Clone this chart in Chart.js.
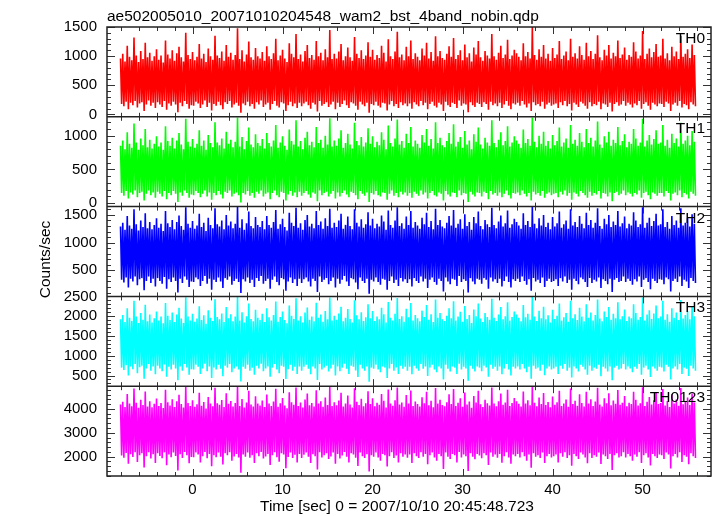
<!DOCTYPE html>
<html>
<head>
<meta charset="utf-8">
<script src="https://cdn.jsdelivr.net/npm/chart.js@4.4.1/dist/chart.umd.min.js"></script>
<style>
  body { margin: 0; background: #fff; }
  #lc { display: block; }
</style>
</head>
<body>
<canvas id="lc" width="717" height="516"></canvas>
<script>
// unbinned light curve, shown as the highest and lowest rate inside each
// 0.25 s slice (the curve is far denser than one pixel)
const t0 = -8;
const dt = 0.25;

const th0Hi = [
  960, 1040, 910, 1180, 990, 930, 1320, 1010, 900, 1090, 950, 1230, 980, 1060, 920, 1000,
  1120, 940, 1010, 890, 1270, 1030, 960, 1100, 920, 1050, 1160, 980, 910, 1400, 1020, 950,
  1070, 930, 990, 1210, 960, 1040, 900, 1130, 1000, 940, 1350, 1010, 970, 1080, 920, 1190,
  990, 1060, 940, 1020, 1480, 950, 1100, 910, 1030, 1250, 980, 940, 1140, 1000, 960, 1070,
  920, 1170, 1000, 950, 1050, 1300, 930, 1010, 1110, 960, 900, 1220, 1040, 980, 1380, 950,
  1030, 910, 1090, 1190, 970, 1020, 940, 1260, 1000, 1060, 930, 1120, 980, 1450, 950, 1040,
  960, 1080, 1210, 930, 1000, 1150, 980, 920, 1330, 1040, 970, 1100, 950, 1010, 1240, 990,
  1110, 940, 1020, 970, 1180, 1060, 910, 1290, 1000, 950, 1080, 1420, 980, 1030, 930, 1160,
  1000, 1270, 950, 1050, 990, 930, 1130, 1010, 1230, 960, 1070, 920, 1340, 1000, 1090, 970,
  940, 1040, 1170, 990, 1310, 950, 1020, 1100, 930, 1200, 980, 1050, 910, 1150, 1030, 1260,
  980, 920, 1090, 1010, 960, 1380, 1000, 940, 1060, 1180, 970, 1030, 1280, 950, 1010, 1110,
  1050, 990, 930, 1220, 1000, 1070, 960, 1500, 1020, 940, 1120, 990, 1190, 960, 1040, 920,
  1140, 970, 1030, 1260, 950, 1010, 1080, 930, 1300, 990, 1050, 960, 1170, 1020, 940, 1230,
  1000, 1090, 950, 1040, 1360, 980, 930, 1110, 1010, 1190, 960, 1060, 1000, 1270, 970, 1030,
  1150, 940, 1020, 990, 1240, 1080, 960, 1010, 1430, 950, 1040, 1130, 980, 1070, 1210, 990,
  1010, 1300, 960, 1050, 930, 1160, 1000, 1080, 950, 1350, 990, 1040, 1120, 970, 1200, 1020
];
const th0Lo = [
  180, 140, 220, 90, 200, 160, 230, 120, 190, 210, 60, 170, 240, 150, 200, 110,
  210, 170, 130, 230, 80, 190, 150, 220, 170, 40, 200, 140, 230, 180, 100, 160,
  150, 220, 190, 110, 170, 240, 130, 200, 70, 180, 150, 220, 160, 90, 210, 180,
  230, 120, 170, 200, 150, 30, 190, 160, 220, 140, 180, 100, 210, 170, 240, 130,
  170, 200, 80, 180, 230, 150, 120, 210, 190, 60, 160, 220, 140, 190, 110, 200,
  140, 190, 220, 160, 100, 200, 170, 50, 230, 150, 180, 210, 130, 170, 220, 90,
  200, 130, 180, 240, 160, 110, 210, 190, 150, 80, 220, 170, 140, 200, 30, 180,
  160, 220, 150, 120, 200, 190, 70, 170, 230, 140, 180, 110, 210, 160, 190, 140,
  190, 100, 210, 170, 140, 230, 160, 200, 90, 180, 220, 150, 120, 200, 170, 60,
  220, 160, 130, 200, 180, 110, 240, 150, 190, 170, 40, 210, 160, 130, 200, 180,
  130, 210, 180, 80, 220, 160, 190, 140, 200, 110, 170, 230, 150, 90, 190, 170,
  200, 150, 230, 170, 120, 190, 60, 210, 160, 180, 140, 220, 100, 170, 200, 150,
  170, 190, 110, 210, 160, 230, 140, 180, 70, 200, 170, 130, 220, 190, 150, 100,
  210, 140, 180, 160, 220, 90, 190, 170, 130, 200, 50, 180, 210, 150, 170, 230,
  150, 200, 170, 120, 190, 160, 230, 100, 180, 210, 150, 80, 200, 170, 140, 190,
  180, 130, 220, 190, 60, 170, 200, 150, 230, 120, 180, 160, 90, 210, 170, 140
];
const th1Hi = [
  850, 930, 800, 1050, 880, 820, 1180, 900, 790, 960, 860, 1100, 830, 940, 810, 880,
  990, 840, 900, 790, 1140, 920, 850, 970, 810, 930, 1040, 870, 800, 1250, 910, 840,
  950, 820, 880, 1080, 850, 930, 790, 1010, 890, 830, 1200, 900, 860, 960, 810, 1060,
  880, 940, 830, 910, 1270, 840, 980, 800, 920, 1120, 870, 830, 1020, 890, 850, 950,
  810, 1040, 890, 840, 930, 1160, 820, 900, 990, 850, 790, 1090, 920, 870, 1230, 840,
  920, 800, 970, 1060, 860, 910, 830, 1130, 890, 940, 820, 1000, 870, 1260, 840, 930,
  850, 960, 1080, 820, 890, 1030, 870, 810, 1190, 920, 860, 980, 840, 900, 1110, 880,
  990, 830, 910, 860, 1050, 940, 800, 1150, 890, 840, 960, 1240, 870, 920, 820, 1030,
  890, 1130, 840, 930, 880, 820, 1010, 900, 1100, 850, 950, 810, 1200, 890, 970, 860,
  830, 920, 1040, 880, 1170, 840, 910, 980, 820, 1070, 870, 930, 800, 1020, 910, 1120,
  870, 810, 970, 900, 850, 1230, 890, 830, 940, 1050, 860, 920, 1140, 840, 900, 990,
  930, 880, 820, 1090, 890, 950, 850, 1270, 910, 830, 1000, 880, 1060, 850, 920, 810,
  1010, 860, 920, 1120, 840, 900, 960, 820, 1160, 880, 940, 850, 1040, 910, 830, 1100,
  890, 970, 840, 930, 1210, 870, 820, 990, 900, 1060, 850, 940, 890, 1130, 860, 920,
  1020, 830, 910, 880, 1100, 960, 850, 900, 1250, 840, 930, 1010, 870, 950, 1080, 880,
  900, 1160, 850, 940, 820, 1030, 890, 960, 840, 1190, 880, 930, 1000, 860, 1070, 910
];
const th1Lo = [
  150, 110, 180, 70, 160, 130, 190, 90, 150, 170, 40, 140, 190, 120, 160, 80,
  170, 140, 100, 180, 60, 150, 120, 180, 140, 20, 160, 110, 190, 150, 80, 130,
  120, 180, 150, 90, 140, 190, 100, 160, 50, 150, 120, 180, 130, 70, 170, 150,
  190, 100, 140, 160, 120, 10, 150, 130, 180, 110, 150, 80, 170, 140, 190, 100,
  140, 160, 60, 150, 190, 120, 90, 170, 150, 40, 130, 180, 110, 160, 90, 170,
  110, 150, 180, 130, 80, 160, 140, 30, 190, 120, 150, 170, 100, 140, 180, 70,
  160, 100, 150, 190, 130, 90, 170, 150, 120, 60, 180, 140, 110, 160, 20, 150,
  130, 180, 120, 100, 160, 150, 50, 140, 190, 110, 150, 90, 170, 130, 160, 110,
  150, 80, 170, 140, 110, 190, 130, 160, 70, 150, 180, 120, 100, 160, 140, 40,
  180, 130, 100, 160, 150, 90, 190, 120, 150, 140, 20, 170, 130, 100, 160, 150,
  100, 170, 150, 60, 180, 130, 150, 110, 160, 90, 140, 190, 120, 70, 150, 140,
  160, 120, 190, 140, 100, 150, 40, 170, 130, 150, 110, 180, 80, 140, 160, 120,
  140, 150, 90, 170, 130, 190, 110, 150, 50, 160, 140, 100, 180, 150, 120, 80,
  170, 110, 150, 130, 180, 70, 150, 140, 100, 160, 30, 150, 170, 120, 140, 190,
  120, 160, 140, 100, 150, 130, 190, 80, 150, 170, 120, 60, 160, 140, 110, 150,
  150, 100, 180, 150, 40, 140, 160, 120, 190, 90, 150, 130, 70, 170, 140, 110
];
const th2Hi = [
  1290, 1360, 1230, 1480, 1310, 1250, 1600, 1330, 1220, 1400, 1280, 1530, 1260, 1370, 1240, 1320,
  1440, 1270, 1340, 1210, 1570, 1350, 1280, 1410, 1240, 1370, 1490, 1300, 1230, 1640, 1340, 1270,
  1390, 1250, 1310, 1520, 1280, 1360, 1210, 1450, 1320, 1260, 1620, 1330, 1290, 1400, 1240, 1500,
  1310, 1380, 1260, 1340, 1650, 1270, 1420, 1230, 1350, 1560, 1300, 1260, 1460, 1320, 1280, 1390,
  1240, 1480, 1320, 1270, 1370, 1590, 1250, 1330, 1430, 1280, 1220, 1540, 1360, 1300, 1630, 1270,
  1350, 1230, 1410, 1500, 1290, 1340, 1260, 1570, 1320, 1380, 1250, 1440, 1300, 1610, 1270, 1360,
  1280, 1400, 1520, 1250, 1320, 1470, 1300, 1240, 1600, 1360, 1290, 1420, 1270, 1330, 1550, 1310,
  1430, 1260, 1340, 1290, 1490, 1380, 1230, 1580, 1320, 1270, 1400, 1640, 1300, 1350, 1250, 1470,
  1320, 1570, 1270, 1370, 1310, 1250, 1450, 1330, 1540, 1280, 1390, 1240, 1610, 1320, 1410, 1290,
  1260, 1360, 1480, 1310, 1590, 1270, 1340, 1420, 1250, 1510, 1300, 1370, 1230, 1460, 1350, 1560,
  1300, 1240, 1410, 1330, 1280, 1630, 1320, 1260, 1380, 1490, 1290, 1350, 1580, 1270, 1330, 1430,
  1370, 1310, 1250, 1530, 1320, 1390, 1280, 1650, 1340, 1260, 1440, 1310, 1500, 1280, 1360, 1240,
  1460, 1290, 1350, 1560, 1270, 1330, 1400, 1250, 1600, 1310, 1370, 1280, 1480, 1340, 1260, 1540,
  1320, 1410, 1270, 1360, 1620, 1300, 1250, 1430, 1330, 1500, 1280, 1380, 1320, 1570, 1290, 1350,
  1470, 1260, 1340, 1310, 1550, 1400, 1280, 1330, 1640, 1270, 1360, 1450, 1300, 1390, 1520, 1310,
  1330, 1600, 1280, 1370, 1250, 1480, 1320, 1400, 1270, 1620, 1310, 1360, 1440, 1290, 1510, 1340
];
const th2Lo = [
  330, 280, 370, 190, 350, 300, 390, 230, 340, 360, 140, 310, 390, 270, 350, 210,
  360, 310, 260, 380, 170, 340, 290, 370, 310, 100, 350, 270, 390, 330, 200, 300,
  290, 370, 340, 220, 310, 400, 260, 350, 150, 330, 290, 370, 300, 180, 360, 330,
  390, 240, 310, 350, 290, 90, 340, 300, 370, 270, 330, 200, 360, 310, 400, 260,
  310, 350, 170, 330, 390, 290, 230, 360, 340, 130, 300, 370, 270, 340, 220, 350,
  270, 340, 370, 300, 210, 350, 310, 110, 390, 290, 330, 360, 250, 310, 370, 190,
  350, 260, 330, 400, 300, 220, 360, 340, 280, 160, 370, 310, 270, 350, 80, 330,
  300, 370, 290, 240, 350, 330, 150, 310, 390, 270, 330, 220, 360, 300, 340, 270,
  340, 210, 360, 310, 270, 390, 300, 350, 180, 330, 370, 290, 240, 350, 310, 120,
  370, 300, 250, 350, 330, 220, 400, 290, 340, 310, 100, 360, 300, 250, 350, 330,
  260, 360, 330, 170, 370, 300, 340, 270, 350, 210, 310, 390, 290, 190, 340, 310,
  350, 290, 390, 310, 240, 340, 130, 360, 300, 330, 270, 370, 200, 310, 350, 290,
  310, 340, 220, 360, 300, 390, 270, 330, 150, 350, 310, 250, 370, 340, 290, 200,
  360, 270, 330, 300, 370, 180, 340, 310, 250, 350, 110, 330, 360, 290, 310, 390,
  290, 350, 310, 240, 340, 300, 390, 200, 330, 360, 290, 160, 350, 310, 270, 340,
  330, 250, 370, 340, 120, 310, 350, 290, 390, 220, 330, 300, 180, 360, 310, 270
];
const th3Hi = [
  1920, 2030, 1850, 2200, 1960, 1880, 2390, 1990, 1830, 2080, 1910, 2290, 1870, 2040, 1840, 1950,
  2120, 1890, 1990, 1820, 2330, 2010, 1900, 2090, 1850, 2040, 2210, 1940, 1830, 2480, 1990, 1890,
  2060, 1860, 1940, 2250, 1900, 2020, 1810, 2150, 1960, 1880, 2430, 1980, 1920, 2070, 1850, 2230,
  1950, 2050, 1870, 1990, 2500, 1890, 2100, 1840, 2000, 2320, 1930, 1870, 2160, 1960, 1900, 2060,
  1850, 2200, 1970, 1890, 2030, 2370, 1860, 1980, 2120, 1900, 1820, 2270, 2010, 1930, 2450, 1890,
  2000, 1840, 2090, 2220, 1910, 1990, 1870, 2340, 1960, 2040, 1860, 2130, 1920, 2470, 1890, 2010,
  1910, 2070, 2240, 1870, 1960, 2180, 1930, 1840, 2400, 2020, 1920, 2100, 1880, 1970, 2300, 1950,
  2130, 1880, 1990, 1920, 2210, 2050, 1840, 2360, 1960, 1890, 2060, 2460, 1930, 2000, 1860, 2190,
  1970, 2330, 1890, 2030, 1950, 1870, 2140, 1980, 2280, 1910, 2050, 1850, 2420, 1960, 2080, 1920,
  1880, 2010, 2200, 1950, 2380, 1890, 1990, 2110, 1860, 2260, 1930, 2030, 1830, 2170, 2000, 2320,
  1940, 1850, 2080, 1980, 1910, 2440, 1960, 1880, 2040, 2230, 1920, 2000, 2350, 1890, 1980, 2120,
  2040, 1960, 1870, 2280, 1970, 2060, 1910, 2500, 1990, 1880, 2140, 1950, 2240, 1920, 2020, 1840,
  2160, 1930, 2010, 2320, 1890, 1970, 2080, 1860, 2390, 1950, 2050, 1900, 2210, 1990, 1870, 2300,
  1960, 2090, 1890, 2030, 2420, 1940, 1870, 2120, 1980, 2230, 1910, 2060, 1950, 2350, 1920, 2000,
  2170, 1880, 1990, 1950, 2300, 2080, 1910, 1980, 2470, 1890, 2040, 2150, 1930, 2070, 2270, 1950,
  1990, 2390, 1910, 2050, 1860, 2200, 1960, 2090, 1900, 2410, 1940, 2030, 2130, 1920, 2250, 2000
];
const th3Lo = [
  700, 640, 760, 500, 730, 660, 790, 560, 710, 750, 420, 680, 790, 620, 730, 530,
  750, 680, 610, 780, 470, 720, 650, 770, 680, 380, 730, 620, 790, 700, 520, 660,
  650, 770, 720, 540, 680, 800, 610, 730, 440, 700, 650, 770, 670, 480, 750, 700,
  790, 580, 680, 730, 650, 350, 720, 670, 770, 620, 700, 520, 750, 680, 800, 610,
  680, 730, 470, 700, 790, 650, 560, 750, 720, 410, 660, 770, 620, 720, 540, 730,
  620, 720, 770, 670, 530, 730, 680, 390, 790, 650, 700, 750, 600, 680, 770, 500,
  730, 610, 700, 800, 670, 540, 750, 720, 630, 460, 770, 680, 620, 730, 340, 700,
  670, 770, 650, 580, 730, 700, 440, 680, 790, 620, 700, 540, 750, 670, 720, 620,
  720, 530, 750, 680, 620, 790, 670, 730, 490, 700, 770, 650, 580, 730, 680, 400,
  770, 670, 600, 730, 700, 540, 800, 650, 720, 680, 370, 750, 670, 600, 730, 700,
  610, 750, 700, 470, 770, 670, 720, 620, 730, 530, 680, 790, 650, 500, 720, 680,
  730, 650, 790, 680, 580, 720, 420, 750, 670, 700, 620, 770, 510, 680, 730, 650,
  680, 720, 540, 750, 670, 790, 620, 700, 450, 730, 680, 600, 770, 720, 650, 520,
  750, 620, 700, 670, 770, 480, 720, 680, 600, 730, 380, 700, 750, 650, 680, 790,
  650, 730, 680, 580, 720, 670, 790, 520, 700, 750, 650, 460, 730, 680, 620, 720,
  700, 600, 770, 720, 400, 680, 730, 650, 790, 540, 700, 670, 490, 750, 680, 620
];
const th0123Hi = [
  4180, 4300, 4080, 4620, 4220, 4110, 4850, 4260, 4050, 4380, 4160, 4730, 4100, 4320, 4070, 4210,
  4430, 4120, 4250, 4040, 4800, 4280, 4140, 4400, 4080, 4320, 4590, 4200, 4060, 4930, 4250, 4120,
  4360, 4090, 4190, 4680, 4130, 4290, 4020, 4500, 4220, 4110, 4880, 4240, 4170, 4370, 4080, 4650,
  4210, 4330, 4100, 4250, 4950, 4120, 4410, 4060, 4270, 4760, 4180, 4100, 4530, 4220, 4140, 4350,
  4080, 4600, 4230, 4120, 4310, 4840, 4090, 4240, 4460, 4140, 4030, 4700, 4280, 4170, 4900, 4120,
  4270, 4060, 4390, 4640, 4150, 4250, 4100, 4780, 4220, 4320, 4090, 4480, 4160, 4920, 4120, 4280,
  4150, 4350, 4670, 4100, 4220, 4560, 4180, 4060, 4860, 4300, 4160, 4420, 4110, 4240, 4740, 4200,
  4450, 4110, 4260, 4170, 4620, 4340, 4060, 4810, 4220, 4130, 4360, 4900, 4180, 4270, 4090, 4580,
  4230, 4770, 4120, 4310, 4200, 4100, 4490, 4240, 4720, 4150, 4340, 4070, 4870, 4220, 4380, 4160,
  4110, 4280, 4610, 4200, 4830, 4120, 4260, 4440, 4090, 4690, 4180, 4310, 4050, 4540, 4270, 4760,
  4190, 4080, 4380, 4240, 4140, 4890, 4220, 4110, 4320, 4640, 4170, 4270, 4800, 4120, 4250, 4460,
  4320, 4210, 4100, 4730, 4230, 4360, 4150, 4950, 4260, 4110, 4480, 4200, 4660, 4160, 4290, 4070,
  4520, 4170, 4280, 4760, 4120, 4230, 4390, 4090, 4850, 4200, 4340, 4130, 4610, 4250, 4100, 4720,
  4220, 4400, 4120, 4310, 4880, 4180, 4100, 4450, 4240, 4650, 4150, 4350, 4210, 4790, 4170, 4260,
  4540, 4110, 4260, 4200, 4720, 4380, 4140, 4240, 4910, 4120, 4300, 4500, 4180, 4360, 4690, 4200,
  4250, 4830, 4140, 4330, 4080, 4610, 4220, 4390, 4130, 4870, 4190, 4300, 4480, 4160, 4640, 4270
];
const th0123Lo = [
  2050, 1950, 2150, 1700, 2100, 1990, 2190, 1780, 2060, 2140, 1550, 2020, 2190, 1920, 2100, 1740,
  2140, 2030, 1930, 2180, 1640, 2090, 1980, 2170, 2030, 1420, 2100, 1940, 2200, 2060, 1720, 1990,
  1980, 2170, 2090, 1760, 2020, 2200, 1930, 2110, 1600, 2060, 1980, 2170, 2000, 1670, 2140, 2060,
  2190, 1830, 2010, 2110, 1970, 1330, 2090, 2000, 2170, 1950, 2060, 1740, 2140, 2020, 2200, 1920,
  2010, 2110, 1650, 2060, 2190, 1980, 1790, 2140, 2090, 1520, 1990, 2170, 1940, 2080, 1760, 2110,
  1940, 2080, 2170, 2000, 1740, 2100, 2020, 1460, 2190, 1970, 2060, 2140, 1900, 2010, 2170, 1700,
  2110, 1920, 2050, 2200, 2000, 1760, 2140, 2090, 1950, 1610, 2170, 2020, 1940, 2100, 1380, 2060,
  2000, 2170, 1970, 1830, 2110, 2060, 1590, 2020, 2190, 1940, 2050, 1760, 2140, 2000, 2090, 1950,
  2090, 1740, 2140, 2020, 1940, 2190, 2000, 2110, 1680, 2060, 2170, 1970, 1830, 2110, 2020, 1480,
  2170, 2000, 1900, 2110, 2060, 1760, 2200, 1970, 2090, 2020, 1400, 2140, 2000, 1890, 2110, 2050,
  1930, 2140, 2060, 1650, 2170, 2000, 2090, 1950, 2110, 1750, 2020, 2190, 1970, 1700, 2090, 2020,
  2110, 1970, 2190, 2020, 1830, 2090, 1540, 2140, 2000, 2060, 1940, 2170, 1730, 2020, 2110, 1970,
  2020, 2090, 1760, 2140, 2000, 2190, 1940, 2060, 1620, 2110, 2020, 1900, 2170, 2090, 1970, 1720,
  2140, 1940, 2060, 2000, 2170, 1690, 2090, 2020, 1900, 2110, 1440, 2060, 2140, 1970, 2020, 2190,
  1970, 2110, 2020, 1830, 2090, 2000, 2190, 1740, 2060, 2140, 1970, 1630, 2110, 2020, 1940, 2090,
  2060, 1900, 2170, 2090, 1500, 2020, 2110, 1970, 2190, 1780, 2060, 2000, 1680, 2140, 2020, 1940
];

const panelNames = ['TH0', 'TH1', 'TH2', 'TH3', 'TH0123'];
const panelColors = ['#ff0000', '#00ff00', '#0000ff', '#00ffff', '#ff00ff'];
const panelHi = [th0Hi, th1Hi, th2Hi, th3Hi, th0123Hi];
const panelLo = [th0Lo, th1Lo, th2Lo, th3Lo, th0123Lo];
const yMin = [-40, -50, 30, 230, 1190];
const yMax = [1500, 1280, 1650, 2500, 4950];
const yTicks = [
  [0, 500, 1000, 1500],
  [0, 500, 1000],
  [500, 1000, 1500],
  [500, 1000, 1500, 2000, 2500],
  [2000, 3000, 4000]
];
const yMinor = [100, 100, 100, 100, 200];
const xTicks = [0, 10, 20, 30, 40, 50];

const title = 'ae502005010_20071010204548_wam2_bst_4band_nobin.qdp';
const xTitle = 'Time [sec] 0 = 2007/10/10 20:45:48.723';
const yTitle = 'Counts/sec';

const FONT = '"Liberation Sans", Arial, Helvetica, sans-serif';

// the line runs high, low, high, low ... through each slice, like the raw curve does
function sliceCurve(hi, lo) {
  const pts = [];
  for (let i = 0; i < hi.length; i++) {
    pts.push({ x: t0 + i * dt, y: hi[i] });
    pts.push({ x: t0 + (i + 0.5) * dt, y: lo[i] });
  }
  return pts;
}

const datasets = panelNames.map((name, k) => ({
  label: name,
  data: sliceCurve(panelHi[k], panelLo[k]),
  yAxisID: 'y' + k,
  borderColor: panelColors[k],
  borderWidth: 1.6,
  pointRadius: 0,
  tension: 0,
  fill: false
}));

const scales = {
  x: {
    type: 'linear',
    position: 'bottom',
    min: -9.5,
    max: 57.6,
    grid: { display: false, drawTicks: false },
    border: { display: false },
    afterBuildTicks: (s) => { s.ticks = xTicks.map(v => ({ value: v })); },
    ticks: { padding: 5, color: '#000', font: { family: FONT, size: 15 }, callback: v => String(v) },
    afterFit: (s) => { s.height = 40; }
  }
};
// last defined left axis ends up on top of the stack
for (let k = 4; k >= 0; k--) {
  scales['y' + k] = {
    type: 'linear',
    position: 'left',
    stack: 'lc',
    stackWeight: 1,
    min: yMin[k],
    max: yMax[k],
    grid: { display: false, drawTicks: false },
    border: { display: false },
    afterBuildTicks: (s) => { s.ticks = yTicks[k].map(v => ({ value: v })); },
    ticks: {
      autoSkip: false, padding: 10,
      color: '#000', font: { family: FONT, size: 15 }, callback: v => String(v)
    },
    afterFit: (s) => { s.width = 107; }
  };
}

function seg(ctx, x1, y1, x2, y2) {
  ctx.beginPath();
  ctx.moveTo(x1, y1);
  ctx.lineTo(x2, y2);
  ctx.stroke();
}

const qdpFrame = {
  id: 'qdpFrame',
  afterDraw(chart) {
    const { ctx, chartArea: a, scales: sc } = chart;
    const xs = sc.x;
    ctx.save();
    // tick marks, pointing inwards on every panel edge
    ctx.strokeStyle = '#333';
    ctx.lineWidth = 1;
    for (let k = 0; k < 5; k++) {
      const ys = sc['y' + k];
      for (let t = -8; t <= 56; t += 2) {
        const px = Math.round(xs.getPixelForValue(t)) + 0.5;
        const len = t % 10 === 0 ? 7 : 4;
        seg(ctx, px, ys.top, px, ys.top + len);
        seg(ctx, px, ys.bottom, px, ys.bottom - len);
      }
      const m = yMinor[k];
      for (let v = Math.ceil(yMin[k] / m) * m; v <= yMax[k]; v += m) {
        const py = Math.round(ys.getPixelForValue(v)) + 0.5;
        const len = yTicks[k].includes(v) ? 8 : 4;
        seg(ctx, a.left, py, a.left + len, py);
        seg(ctx, a.right, py, a.right - len, py);
      }
    }
    // frame and panel dividers
    ctx.strokeStyle = '#222';
    ctx.lineWidth = 1.5;
    ctx.strokeRect(a.left, a.top, a.right - a.left, a.bottom - a.top);
    for (let k = 1; k < 5; k++) {
      const yTop = sc['y' + k].top;
      seg(ctx, a.left, yTop, a.right, yTop);
    }
    // texts
    ctx.fillStyle = '#000';
    ctx.font = '15.5px ' + FONT;
    ctx.textBaseline = 'alphabetic';
    ctx.textAlign = 'left';
    ctx.fillText(title, 107, 21);
    ctx.fillText(xTitle, 260, 511);
    ctx.textAlign = 'right';
    for (let k = 0; k < 5; k++) {
      ctx.fillText(panelNames[k], 705, sc['y' + k].top + 16);
    }
    ctx.save();
    ctx.translate(49.5, 259.5);
    ctx.rotate(-Math.PI / 2);
    ctx.textAlign = 'center';
    ctx.fillText(yTitle, 0, 0);
    ctx.restore();
    ctx.restore();
  }
};

new Chart(document.getElementById('lc'), {
  type: 'line',
  data: { datasets: datasets },
  options: {
    responsive: false,
    animation: false,
    devicePixelRatio: 1,
    layout: { padding: { left: 0, right: 6, top: 27, bottom: 0 } },
    plugins: { legend: { display: false }, title: { display: false }, tooltip: { enabled: false } },
    scales: scales
  },
  plugins: [qdpFrame]
});
</script>
</body>
</html>
